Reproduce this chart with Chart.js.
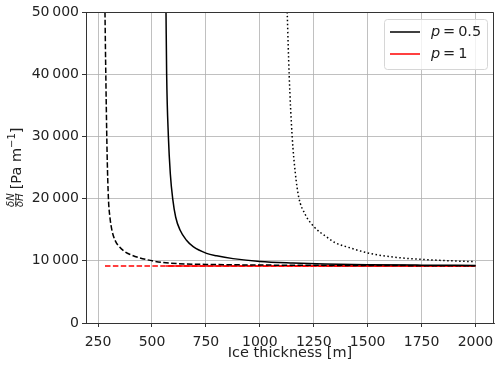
<!DOCTYPE html>
<html>
<head>
<meta charset="utf-8">
<script src="https://cdn.jsdelivr.net/npm/chart.js@4/dist/chart.umd.min.js"></script>
<style>
  html, body { margin: 0; padding: 0; background: #fff; }
  #wrap { width: 500px; height: 367px; }
</style>
</head>
<body>
<div id="wrap"><canvas id="chart" width="500" height="367"></canvas></div>
<script>
// Valores
const xTicks = [250, 500, 750, 1000, 1250, 1500, 1750, 2000];
const yTicks = [0, 10000, 20000, 30000, 40000, 50000];

// curva discontinua (negra)
const dashedX = [282, 285, 288, 292, 298, 305, 315, 330, 350, 375, 400, 440, 480, 545, 620, 750, 1000, 1250, 1500, 1750, 2000];
const dashedY = [50000, 42000, 35000, 27000, 20000, 17000, 14800, 13200, 12200, 11450, 11000, 10500, 10150, 9750, 9550, 9420, 9320, 9270, 9240, 9220, 9210];

// curva continua (negra)
const solidX = [565, 568, 576, 585, 596, 610, 630, 660, 691, 753, 800, 876, 1000, 1153, 1300, 1500, 1750, 2000];
const solidY = [50000, 40000, 30000, 24000, 20000, 17000, 14950, 13300, 12270, 11200, 10800, 10350, 9900, 9650, 9500, 9380, 9300, 9250];

// curva punteada (negra)
const dottedX = [1127, 1136, 1150, 1165, 1180, 1210, 1251, 1308, 1350, 1401, 1509, 1648, 1802, 1900, 2000];
const dottedY = [50000, 40000, 30000, 24000, 20300, 17500, 15480, 13880, 12900, 12270, 11200, 10500, 10130, 9980, 9850];

// p = 1 (rojo), constante
const redDashedX = [282, 2000];
const redSolidX = [565, 2000];
const redDottedX = [1127, 2000];
const redY = [9150, 9150];

const legendLabels = ['0.5', '1'];

const DASH = [5.5, 2.4];
const DOT = [1.5, 2.5];

function pts(xs, ys) {
    return xs.map((x, i) => ({ x: x, y: ys[i] }));
}

function serie(xs, ys, color, dash) {
    return {
        data: pts(xs, ys),
        borderColor: color,
        borderWidth: 1.5,
        borderDash: dash,
        pointRadius: 0,
        fill: false,
        cubicInterpolationMode: 'monotone',
    };
}

// ejes de arriba y derecha, etiqueta del eje y y leyenda
const extras = {
    id: 'extras',
    afterDraw(chart) {
        const ctx = chart.ctx;
        const a = chart.chartArea;
        ctx.save();
        ctx.strokeStyle = '#333';
        ctx.lineWidth = 1;
        ctx.beginPath();
        ctx.moveTo(a.left, a.top + 0.5);
        ctx.lineTo(a.right - 0.5, a.top + 0.5);
        ctx.lineTo(a.right - 0.5, a.bottom);
        ctx.stroke();

        // etiqueta del eje y: dN/dH [Pa m^-1]
        ctx.fillStyle = '#222';
        ctx.translate(21, 167);
        ctx.rotate(-Math.PI / 2);
        ctx.textBaseline = 'alphabetic';
        ctx.textAlign = 'left';
        ctx.font = 'italic 10px "DejaVu Sans"';
        const fx = -40;
        const wN = ctx.measureText('\u03B4N').width;
        const wH = ctx.measureText('\u03B4H').width;
        const fw = Math.max(wN, wH);
        ctx.fillText('\u03B4N', fx + (fw - wN) / 2, -7);
        ctx.fillText('\u03B4H', fx + (fw - wH) / 2, 2);
        ctx.fillRect(fx, -5.5, fw, 0.8);
        ctx.font = '14.5px "DejaVu Sans"';
        let tx = fx + fw + 4;
        ctx.fillText('[Pa m', tx, 0);
        tx += ctx.measureText('[Pa m').width;
        ctx.font = '10px "DejaVu Sans"';
        ctx.fillText('\u22121', tx, -6);
        tx += ctx.measureText('\u22121').width;
        ctx.font = '14.5px "DejaVu Sans"';
        ctx.fillText(']', tx, 0);
        ctx.restore();

        // leyenda
        ctx.save();
        const bx = 384.5, by = 19.5, bw = 103, bh = 50, r = 3;
        ctx.beginPath();
        ctx.roundRect(bx, by, bw, bh, r);
        ctx.fillStyle = 'rgba(255,255,255,0.8)';
        ctx.fill();
        ctx.strokeStyle = '#d6d6d6';
        ctx.lineWidth = 1;
        ctx.stroke();
        const colors = ['#000000', '#ff0000'];
        const rows = [32, 54];
        ctx.textBaseline = 'middle';
        rows.forEach((y, i) => {
            ctx.strokeStyle = colors[i];
            ctx.lineWidth = 1.5;
            ctx.beginPath();
            ctx.moveTo(390, y);
            ctx.lineTo(420, y);
            ctx.stroke();
            ctx.fillStyle = '#222';
            ctx.font = 'italic 14.5px "DejaVu Sans"';
            ctx.fillText('p', 431, y);
            const w = ctx.measureText('p').width;
            ctx.font = '14.5px "DejaVu Sans"';
            ctx.fillText('\u2009=\u2009' + legendLabels[i], 431 + w, y);
        });
        ctx.restore();
    }
};

new Chart(document.getElementById('chart'), {
    type: 'line',
    data: {
        datasets: [
            serie(dashedX, dashedY, '#000000', DASH),
            serie(solidX, solidY, '#000000', []),
            serie(dottedX, dottedY, '#000000', DOT),
            serie(redDashedX, redY, '#ff0000', DASH),
            serie(redSolidX, redY, '#ff0000', []),
            serie(redDottedX, redY, '#ff0000', DOT),
        ],
    },
    options: {
        responsive: false,
        animation: false,
        layout: { padding: { left: 0, right: 6, top: 12, bottom: 0 } },
        plugins: {
            legend: { display: false },
            tooltip: { enabled: false },
        },
        scales: {
            x: {
                type: 'linear',
                min: 194,
                max: 2086,
                afterBuildTicks: (scale) => {
                    scale.ticks = xTicks.map((v) => ({ value: v }));
                },
                afterFit: (scale) => {
                    scale.height = 44;
                    scale.paddingLeft = 0;
                    scale.paddingRight = 0;
                },
                ticks: {
                    font: { family: 'DejaVu Sans', size: 14 },
                    color: '#222',
                    padding: 7,
                    maxRotation: 0,
                    callback: (v) => String(v),
                },
                grid: { color: '#b0b0b0', lineWidth: 0.8, tickLength: 4, tickColor: '#333', tickWidth: 1 },
                border: { color: '#333', width: 1 },
                title: {
                    display: true,
                    text: 'Ice thickness [m]',
                    font: { family: 'DejaVu Sans', size: 14.5 },
                    color: '#222',
                    padding: { top: 0, bottom: 5 },
                },
            },
            y: {
                min: 0,
                max: 50000,
                afterBuildTicks: (scale) => {
                    scale.ticks = yTicks.map((v) => ({ value: v }));
                },
                afterFit: (scale) => {
                    scale.width = 86;
                    scale.paddingTop = 0;
                    scale.paddingBottom = 0;
                },
                ticks: {
                    font: { family: 'DejaVu Sans', size: 14 },
                    color: '#222',
                    padding: 3,
                    callback: (v) => {
                        if (v === 0) return '0';
                        const s = String(v);
                        return s.slice(0, s.length - 3) + '\u2009' + s.slice(-3);
                    },
                },
                grid: { color: '#b0b0b0', lineWidth: 0.8, tickLength: 4, tickColor: '#333', tickWidth: 1 },
                border: { color: '#333', width: 1 },
            },
        },
    },
    plugins: [extras],
});
</script>
</body>
</html>
